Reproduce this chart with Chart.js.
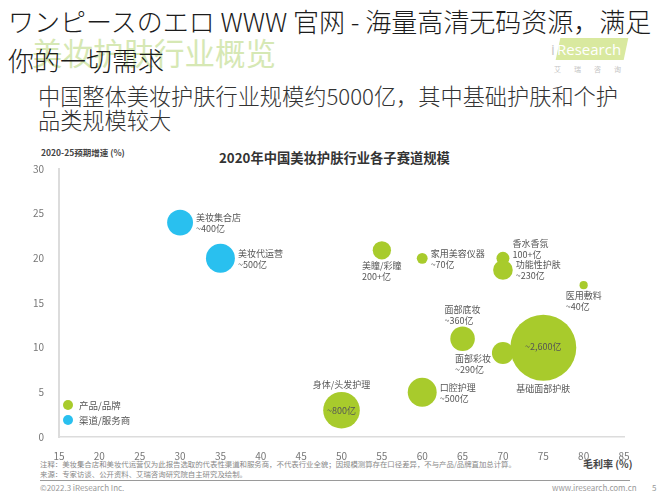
<!DOCTYPE html>
<html>
<head>
<meta charset="utf-8">
<script src="https://cdn.jsdelivr.net/npm/chart.js@4.4.1/dist/chart.umd.min.js"></script>
<style>
  body { margin: 0; background: #fff; font-family: "Noto Sans CJK SC", "Noto Sans", sans-serif; }
  #page { position: relative; width: 667px; height: 500px; overflow: hidden; background: #fff; }
  .t { position: absolute; white-space: nowrap; line-height: 1; }
  #chart { position: absolute; left: 0; top: 0; }
</style>
</head>
<body>
<div id="page">
  <!-- faded page title and logo behind the overlay text -->
  <div class="t" style="left:32px;top:37px;font-size:30.5px;color:#d6e8b4;">美妆护肤行业概览</div>
  <div style="position:absolute;left:558px;top:38px;width:68px;height:22px;background:#d9e99f;transform:skewX(-12deg);"></div>
  <div class="t" style="left:551px;top:42px;font-size:15px;color:#c8c8c8;font-family:'Open Sans',sans-serif;">i</div>
  <div class="t" style="left:557px;top:42px;font-size:15px;color:#fff;font-family:'Open Sans',sans-serif;">Research</div>
  <div class="t" style="left:554px;top:66px;font-size:7px;color:#c4c4c4;letter-spacing:13px;">艾瑞咨询</div>

  <div class="t" style="left:8px;top:8px;font-size:26px;font-weight:300;color:#1c1c1c;font-family:'Noto Sans CJK JP',sans-serif;">ワンピースのエロ WWW 官网 - 海量高清无码资源，满足</div>
  <div class="t" style="left:8px;top:47px;font-size:26px;font-weight:300;color:#1c1c1c;font-family:'Noto Sans CJK JP',sans-serif;">你的一切需求</div>

  <div class="t" style="left:38px;top:84px;font-size:22.2px;font-weight:300;color:#333;">中国整体美妆护肤行业规模约5000亿，其中基础护肤和个护</div>
  <div class="t" style="left:38px;top:108px;font-size:22.2px;font-weight:300;color:#333;">品类规模较大</div>

  <div class="t" style="left:219px;top:151px;font-size:13.3px;font-weight:bold;color:#333;">2020年中国美妆护肤行业各子赛道规模</div>
  <div class="t" style="left:41px;top:148px;font-size:8.5px;font-weight:bold;color:#444;">2020-25预期增速 (%)</div>
  <div class="t" style="left:583px;top:459px;font-size:10px;font-weight:bold;color:#444;">毛利率 (%)</div>

  <div class="t" style="left:40px;top:460px;font-size:7.4px;color:#888;">注释：美妆集合店和美妆代运营仅为此报告选取的代表性渠道和服务商，不代表行业全貌；因规模测算存在口径差异，不与产品/品牌直加总计算。</div>
  <div class="t" style="left:40px;top:470px;font-size:7.4px;color:#888;">来源：专家访谈、公开资料、艾瑞咨询研究院自主研究及绘制。</div>
  <div style="position:absolute;left:40px;top:480px;width:590px;height:1px;background:#9a9a9a;"></div>
  <div class="t" style="left:40px;top:484px;font-size:8px;color:#999;">©2022.3 iResearch Inc.</div>
  <div class="t" style="left:552px;top:484px;font-size:8px;color:#999;">www.iresearch.com.cn</div>
  <div class="t" style="left:652px;top:484px;font-size:8px;color:#999;">5</div>

  <canvas id="chart" width="667" height="500"></canvas>
</div>
<script>
// 产品/品牌
const productNames = ['美瞳/彩瞳', '家用美容仪器', '香水香氛', '功能性护肤', '医用敷料', '面部底妆', '面部彩妆', '基础面部护肤', '口腔护理', '身体/头发护理'];
const productSizeText = ['200+亿', '~70亿', '100+亿', '~230亿', '~40亿', '~360亿', '~290亿', '~2,600亿', '~500亿', '~800亿'];
const productSize = [200, 70, 100, 230, 40, 360, 290, 2600, 500, 800];
const productMargin = [55, 60, 70, 70, 80, 65, 70, 75, 60, 50];
const productGrowth = [20.9, 20, 20, 18.7, 17, 11, 9.4, 10, 5, 3];

// 渠道/服务商
const channelNames = ['美妆集合店', '美妆代运营'];
const channelSizeText = ['~400亿', '~500亿'];
const channelSize = [400, 500];
const channelMargin = [30, 35];
const channelGrowth = [24, 20];

const xTicks = [15, 20, 25, 30, 35, 40, 45, 50, 55, 60, 65, 70, 75, 80, 85];
const yTicks = [0, 5, 10, 15, 20, 25, 30];

// where each bubble's text goes
const productLabelPlace = ['below', 'right', 'aboveRight', 'right', 'below', 'above', 'belowLeft', 'insideBelow', 'right', 'aboveInside'];
const channelLabelPlace = ['right', 'right'];

const GREEN = '#a8cb2c';
const BLUE = '#29c0ef';

function toPoints(xs, ys, sizes) {
  return xs.map((x, i) => ({ x: x, y: ys[i], size: sizes[i] }));
}

// label plugin
const bubbleLabels = {
  id: 'bubbleLabels',
  afterDatasetsDraw(chart) {
    const ctx = chart.ctx;
    ctx.save();
    ctx.font = '9px "Noto Sans CJK SC", sans-serif';
    ctx.fillStyle = '#555';
    ctx.textBaseline = 'middle';
    chart.data.datasets.forEach((ds, di) => {
      const meta = chart.getDatasetMeta(di);
      meta.data.forEach((el, i) => {
        const x = el.x, y = el.y, r = el.options.radius;
        const name = ds.names[i], val = ds.sizeText[i];
        const place = ds.place[i];
        const w = Math.max(ctx.measureText(name).width, ctx.measureText(val).width);
        ctx.textAlign = 'left';
        if (place === 'right') {
          ctx.fillText(name, x + r + 3, y - 5);
          ctx.fillText(val, x + r + 3, y + 6);
        } else if (place === 'below') {
          ctx.fillText(name, x - w / 2, y + r + 6);
          ctx.fillText(val, x - w / 2, y + r + 17);
        } else if (place === 'above') {
          ctx.fillText(name, x - w / 2, y - r - 17);
          ctx.fillText(val, x - w / 2, y - r - 6);
        } else if (place === 'aboveRight') {
          ctx.fillText(name, x + r + 3, y - 15);
          ctx.fillText(val, x + r + 3, y - 4);
        } else if (place === 'belowLeft') {
          ctx.fillText(name, x - r - 1 - w, y + 6);
          ctx.fillText(val, x - r - 1 - w, y + 17);
        } else if (place === 'insideBelow') {
          ctx.textAlign = 'center';
          ctx.fillText(val, x, y - 1);
          ctx.fillText(name, x, y + r + 8);
        } else if (place === 'aboveInside') {
          ctx.textAlign = 'center';
          ctx.fillText(name, x, y - r - 7);
          ctx.fillText(val, x, y);
        }
      });
    });
    ctx.restore();
  }
};

// legend inside the plot, bottom left
const innerLegend = {
  id: 'innerLegend',
  afterDraw(chart) {
    const ctx = chart.ctx;
    const area = chart.chartArea;
    ctx.save();
    ctx.font = '9.5px "Noto Sans CJK SC", sans-serif';
    ctx.textBaseline = 'middle';
    chart.data.datasets.forEach((ds, di) => {
      const cy = area.bottom - 32 + di * 15;
      ctx.beginPath();
      ctx.arc(area.left + 9, cy, 5, 0, Math.PI * 2);
      ctx.fillStyle = ds.backgroundColor;
      ctx.fill();
      ctx.fillStyle = '#555';
      ctx.fillText(ds.label, area.left + 20, cy);
    });
    ctx.restore();
  }
};

new Chart(document.getElementById('chart'), {
  type: 'bubble',
  data: {
    datasets: [
      {
        label: '产品/品牌',
        data: toPoints(productMargin, productGrowth, productSize),
        names: productNames,
        sizeText: productSizeText,
        place: productLabelPlace,
        backgroundColor: GREEN,
        borderWidth: 0,
      },
      {
        label: '渠道/服务商',
        data: toPoints(channelMargin, channelGrowth, channelSize),
        names: channelNames,
        sizeText: channelSizeText,
        place: channelLabelPlace,
        backgroundColor: BLUE,
        borderWidth: 0,
      },
    ],
  },
  options: {
    responsive: false,
    animation: false,
    clip: false,
    layout: { padding: { left: 0, right: 43, top: 169, bottom: 0 } },
    elements: {
      point: {
        radius: (c) => 0.647 * Math.sqrt(c.raw.size),
        hoverRadius: 0,
      },
    },
    plugins: {
      legend: { display: false },
      tooltip: { enabled: false },
    },
    scales: {
      x: {
        type: 'linear',
        min: 15,
        max: 85,
        afterBuildTicks: (s) => { s.ticks = xTicks.map((v) => ({ value: v })); },
        afterFit: (s) => { s.height = 63; },
        grid: { display: false },
        border: { color: '#dcdcdc', width: 1.5 },
        ticks: { color: '#777', font: { size: 10, family: '"Noto Sans CJK SC", sans-serif' }, padding: 5 },
      },
      y: {
        type: 'linear',
        min: 0,
        max: 30,
        afterBuildTicks: (s) => { s.ticks = yTicks.map((v) => ({ value: v })); },
        afterFit: (s) => { s.width = 59; },
        grid: { display: false },
        border: { color: '#dcdcdc', width: 2 },
        ticks: { color: '#777', font: { size: 10, family: '"Noto Sans CJK SC", sans-serif' }, padding: 7 },
      },
    },
  },
  plugins: [bubbleLabels, innerLegend],
});
</script>
</body>
</html>
